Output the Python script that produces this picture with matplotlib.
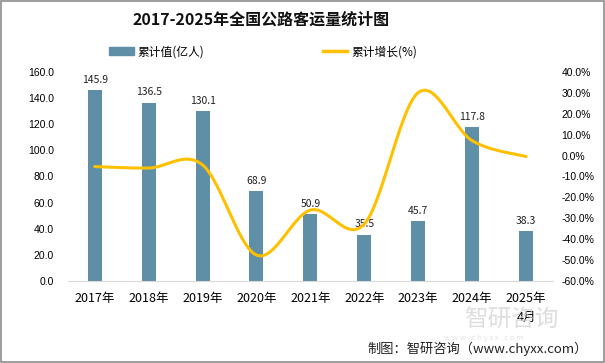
import numpy as np
import matplotlib
matplotlib.use("Agg")
import matplotlib.pyplot as plt
from matplotlib.patches import Rectangle
from matplotlib.lines import Line2D
from matplotlib.ticker import FuncFormatter

plt.rcParams['font.family'] = ['Noto Sans CJK SC', 'DejaVu Sans']

categories = ["2017年", "2018年", "2019年", "2020年", "2021年", "2022年", "2023年", "2024年", "2025年\n4月"]
volume = [145.9, 136.5, 130.1, 68.9, 50.9, 35.5, 45.7, 117.8, 38.3]
growth = [-5.3, -6.0, -4.5, -47.6, -26.1, -32.8, 30.1, 7.1, -0.5]

bar_color = "#5E8FA7"
line_color = "#FFC000"

fig = plt.figure(figsize=(6.05, 3.63), dpi=100)
ax = fig.add_axes([0.112, 0.226, 0.802, 0.576])
ax2 = ax.twinx()

x = np.arange(len(categories))
ax.bar(x, volume, width=0.26, color=bar_color, zorder=2)
for xi, v in zip(x, volume):
    ax.text(xi, v + 4, f"{v:.1f}", ha="center", va="bottom", fontsize=7.5, color="#222222")

# smooth curve through the data points (Bezier smoothing like Excel)
def smooth(xs, ys, n=30):
    xs = np.asarray(xs, float); ys = np.asarray(ys, float)
    P = np.column_stack([xs, ys])
    out = []
    for i in range(len(P) - 1):
        p0 = P[i - 1] if i > 0 else P[i]
        p1 = P[i]
        p2 = P[i + 1]
        p3 = P[i + 2] if i + 2 < len(P) else P[i + 1]
        c1 = p1 + (p2 - p0) / 6
        c2 = p2 - (p3 - p1) / 6
        t = np.linspace(0, 1, n)[:, None]
        seg = (1 - t) ** 3 * p1 + 3 * (1 - t) ** 2 * t * c1 + 3 * (1 - t) * t ** 2 * c2 + t ** 3 * p2
        out.append(seg if i == 0 else seg[1:])
    S = np.vstack(out)
    return S[:, 0], S[:, 1]

sx, sy = smooth(x, growth)
ax2.plot(sx, sy, color=line_color, lw=2.2, solid_capstyle="round", zorder=3)

ax.set_xlim(-0.5, len(categories) - 0.5)
ax.set_ylim(0, 160)
ax.set_yticks(np.arange(0, 161, 20))
ax.yaxis.set_major_formatter(FuncFormatter(lambda v, p: f"{v:.1f}"))
ax2.set_ylim(-60, 40)
ax2.set_yticks(np.arange(-60, 41, 10))
ax2.yaxis.set_major_formatter(FuncFormatter(lambda v, p: f"{v:.1f}%"))

ax.set_xticks(x)
ax.set_xticklabels(categories, fontsize=9, linespacing=1.6, va="top")
for a in (ax, ax2):
    for s in ("top", "left", "right"):
        a.spines[s].set_visible(False)
    a.spines["bottom"].set_color("#D9D9D9")
ax2.spines["bottom"].set_visible(False)
ax.tick_params(axis="x", length=0, pad=8)
ax.tick_params(axis="y", length=0, labelsize=7.5, pad=10)
ax2.tick_params(axis="y", length=0, labelsize=7.5, pad=6)
for lab in ax.get_yticklabels() + ax2.get_yticklabels():
    lab.set_family(["Liberation Sans", "DejaVu Sans"])

# title
fig.text(0.431, 0.945, "2017-2025年全国公路客运量统计图", ha="center", va="center",
         fontsize=11.5, fontweight="bold", color="#111111")

# legend
handles = [Rectangle((0, 0), 1, 1, color=bar_color),
           Line2D([0], [0], color=line_color, lw=2.5)]
fig.legend(handles, ["累计值(亿人)", "累计增长(%)"], loc="center", bbox_to_anchor=(0.435, 0.857),
           ncol=2, frameon=False, fontsize=8.5, columnspacing=10, handlelength=2.1,
           handletextpad=0.35)

# watermark
fig.text(0.845, 0.118, "智研咨询", ha="center", va="center", fontsize=17, color="#D0D0D0", alpha=0.7)
fig.text(0.80, 0.07, "w w w . c h y x x . c o m", ha="center", va="center", fontsize=5.5,
         color="#D8D8D8", alpha=0.7)

# source
fig.text(0.972, 0.040, "制图：智研咨询（www.chyxx.com）", ha="right", va="center", fontsize=9.5,
         color="#222222")

# border
fig.patches.append(Rectangle((0.001, 0.002), 0.997, 0.995, transform=fig.transFigure,
                             fill=False, edgecolor="#8C8C8C", lw=1.2))

fig.savefig("out.png", dpi=100)
